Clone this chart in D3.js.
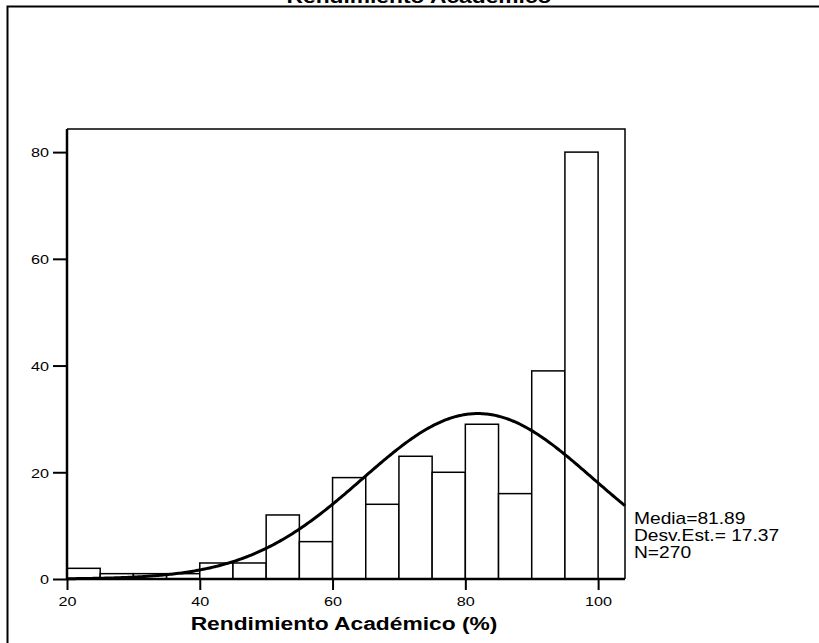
<!DOCTYPE html>
<html><head><meta charset="utf-8">
<script src="https://cdn.jsdelivr.net/npm/d3@7"></script>
<style>body{margin:0;background:#fff}svg{display:block}text{font-family:"Liberation Sans",Arial,sans-serif}</style>
</head><body><svg id="c" width="819" height="643"></svg>
<script>
const binStarts = [20,25,30,35,40,45,50,55,60,65,70,75,80,85,90,95];
const binWidth = 5;
const counts = [2,1,1,1,3,3,12,7,19,14,23,20,29,16,39,80];
const xTicks = [20,40,60,80,100];
const yTicks = [0,20,40,60,80];
const mean = 81.89, sd = 17.37, n = 270;
const statLines = ["Media=81.89","Desv.Est.= 17.37","N=270"];
const title = "Rendimiento Académico";
const xTitle = "Rendimiento Académico (%)";

const SX = 1.2; // horizontal text stretch seen in the reference
const svg = d3.select("#c");
const L = 67, R = 625, T = 129, B = 579;
const x = d3.scaleLinear().domain([20,104.05]).range([L,R]);
const y = d3.scaleLinear().domain([0,84.33]).range([B,T]);

// outer frame
svg.append("path").attr("d","M7.5,643 V6.5 H819").attr("fill","none").attr("stroke","#000").attr("stroke-width",2);
svg.append("text").attr("transform",`translate(419,3) scale(${SX},1)`).attr("text-anchor","middle")
  .attr("font-size",19).attr("font-weight","bold").text(title);

// plot frame top/right
svg.append("path").attr("d",`M${L},${T} H${R} V${B}`).attr("fill","none").attr("stroke","#000").attr("stroke-width",1.5);

// bars
svg.append("g").selectAll("rect").data(binStarts).join("rect")
  .attr("x",(d)=>x(d)).attr("width",(d)=>x(d+binWidth)-x(d))
  .attr("y",(d,i)=>y(counts[i])).attr("height",(d,i)=>y(0)-y(counts[i]))
  .attr("fill","#fff").attr("stroke","#000").attr("stroke-width",1.5);

// normal curve from the stated mean, SD and N
const pdf = v => n*binWidth*Math.exp(-0.5*((v-mean)/sd)**2)/(sd*Math.sqrt(2*Math.PI));
const xs = d3.range(20,104.05,0.25).concat([104.05]);
svg.append("path").datum(xs)
  .attr("d",d3.line().x(v=>x(v)).y(v=>y(pdf(v))))
  .attr("fill","none").attr("stroke","#000").attr("stroke-width",3).attr("stroke-linejoin","round");

// axes
const xa = svg.append("g").attr("transform",`translate(0,${B})`)
  .call(d3.axisBottom(x).tickValues(xTicks).tickSize(11).tickSizeOuter(0));
const ya = svg.append("g").attr("transform",`translate(${L},0)`)
  .call(d3.axisLeft(y).tickValues(yTicks).tickSize(14).tickSizeOuter(0));
[xa,ya].forEach(g=>{
  g.select(".domain").attr("stroke","#000").attr("stroke-width",2.5);
  g.selectAll(".tick line").attr("stroke","#000").attr("stroke-width",2);
  g.selectAll(".tick text").attr("font-size",13.5).attr("fill","#000").attr("font-family","Liberation Sans, Arial, sans-serif");
});
xa.selectAll(".tick text").attr("y",null).attr("dy",null).attr("transform",`translate(0,27) scale(${SX},1)`);
ya.selectAll(".tick text").attr("x",null).attr("dy","0.35em").attr("transform",`translate(-18,0) scale(${SX},1)`);
ya.select(".domain").attr("d",`M0,${B}V${T}`);
xa.select(".domain").attr("d",`M${L},0H${R}`);

svg.append("text").attr("transform",`translate(344,630) scale(${SX},1)`).attr("text-anchor","middle")
  .attr("font-size",19).attr("font-weight","bold").text(xTitle);

svg.append("g").selectAll("text").data(statLines).join("text")
  .attr("transform",(d,i)=>`translate(634,${524+i*17}) scale(${SX},1)`).attr("font-size",16).text(d=>d);
</script></body></html>
